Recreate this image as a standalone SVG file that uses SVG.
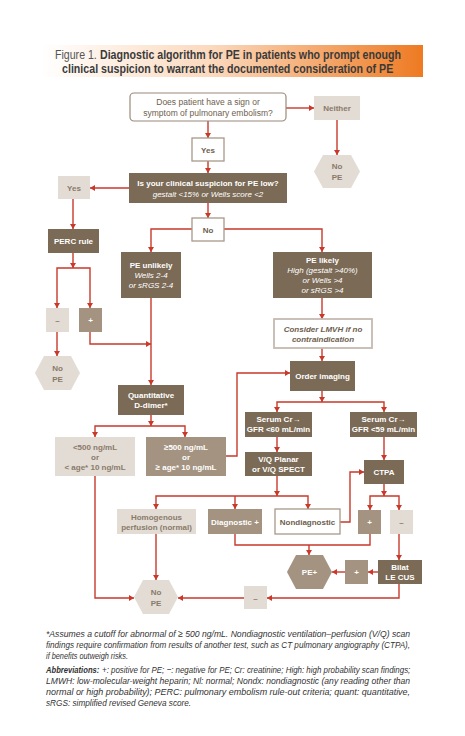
<svg xmlns="http://www.w3.org/2000/svg" width="465" height="736" viewBox="0 0 465 736">
<defs>
<linearGradient id="banner" x1="0" y1="0" x2="1" y2="0">
<stop offset="0" stop-color="#ffffff"/>
<stop offset="0.45" stop-color="#fbd9bd"/>
<stop offset="1" stop-color="#ee7a22"/>
</linearGradient>
<marker id="ah" markerUnits="userSpaceOnUse" markerWidth="6" markerHeight="6" refX="5" refY="3" orient="auto">
<path d="M0,0 L5,3 L0,6 Z" fill="#c8392a"/>
</marker>
<style>
.dark{fill:#7b6a55}
.med{fill:#a39380}
.light{fill:#e2dcd4}
.wbox{fill:#ffffff;stroke:#a89888;stroke-width:1.3}
.t{font-family:"Liberation Sans",Arial,sans-serif;font-size:8px;font-weight:bold;text-anchor:middle}
.tw{fill:#ffffff}
.tl{fill:#8a7a6a}
.tb{fill:#6e5e4e}
.it{font-style:italic;font-weight:normal}
.c path{fill:none;stroke:#c8392a;stroke-width:1.4}
.fn{font-family:"Liberation Sans",Arial,sans-serif;font-size:9.8px;font-style:italic;fill:#333333}
.ti{font-family:"Liberation Sans",Arial,sans-serif;font-size:13px;fill:#3a3a3a}
</style>
</defs>
<rect width="465" height="736" fill="#ffffff"/>
<g id="title">
<rect x="40" y="45" width="383" height="32" fill="url(#banner)"/>
<text class="ti" transform="translate(55,58.5) scale(0.82,1)" x="0" y="0" textLength="51" lengthAdjust="spacingAndGlyphs" style="fill:#555555">Figure 1.</text>
<text class="ti" transform="translate(100,58.5) scale(0.82,1)" x="0" y="0" textLength="367" lengthAdjust="spacingAndGlyphs" font-weight="bold">Diagnostic algorithm for PE in patients who prompt enough</text>
<text class="ti" transform="translate(62,73) scale(0.82,1)" x="0" y="0" textLength="404" lengthAdjust="spacingAndGlyphs" font-weight="bold">clinical suspicion to warrant the documented consideration of PE</text>
</g>
<g class="c" id="connectors">
<path d="M286,108 H314" marker-end="url(#ah)"/>
<path d="M337,120 V155" marker-end="url(#ah)"/>
<path d="M208,121 V138" marker-end="url(#ah)"/>
<path d="M208,161 V173" marker-end="url(#ah)"/>
<path d="M129,188 H90" marker-end="url(#ah)"/>
<path d="M73,199 V229" marker-end="url(#ah)"/>
<path d="M208,203 V218" marker-end="url(#ah)"/>
<path d="M192,229 H151 V252" marker-end="url(#ah)"/>
<path d="M224,229 H322 V252" marker-end="url(#ah)"/>
<path d="M73,253 V268" marker-end="url(#ah)"/>
<path d="M73,268 H57 V308" marker-end="url(#ah)"/>
<path d="M73,268 H90 V308" marker-end="url(#ah)"/>
<path d="M57,332 V356" marker-end="url(#ah)"/>
<path d="M90,332 V344 H151" marker-end="url(#ah)"/>
<path d="M151,298 V385" marker-end="url(#ah)"/>
<path d="M322,298 V319" marker-end="url(#ah)"/>
<path d="M322,348 V361" marker-end="url(#ah)"/>
<path d="M226,456 H237 V373 H290" marker-end="url(#ah)"/>
<path d="M151,415 V426" marker-end="url(#ah)"/>
<path d="M151,426 H95 V437" marker-end="url(#ah)"/>
<path d="M151,426 H185 V437" marker-end="url(#ah)"/>
<path d="M322,391 V402" marker-end="url(#ah)"/>
<path d="M322,402 H277 V412" marker-end="url(#ah)"/>
<path d="M322,402 H384 V412" marker-end="url(#ah)"/>
<path d="M277,437 V452" marker-end="url(#ah)"/>
<path d="M384,437 V460" marker-end="url(#ah)"/>
<path d="M340,522 H350 V472 H364" marker-end="url(#ah)"/>
<path d="M277,476 V496" marker-end="url(#ah)"/>
<path d="M277,496 H156 V509" marker-end="url(#ah)"/>
<path d="M277,496 H308 V509" marker-end="url(#ah)"/>
<path d="M235,496 V509" marker-end="url(#ah)"/>
<path d="M384,484 V496" marker-end="url(#ah)"/>
<path d="M384,496 H370 V510" marker-end="url(#ah)"/>
<path d="M384,496 H399 V510" marker-end="url(#ah)"/>
<path d="M235,534 V545 H370 V534"/>
<path d="M309,545 V555" marker-end="url(#ah)"/>
<path d="M399,534 V560" marker-end="url(#ah)"/>
<path d="M378,572 H368" marker-end="url(#ah)"/>
<path d="M345,572 H332" marker-end="url(#ah)"/>
<path d="M399,584 V598 H267" marker-end="url(#ah)"/>
<path d="M244,598 H178" marker-end="url(#ah)"/>
<path d="M156,534 V580" marker-end="url(#ah)"/>
<path d="M95,476 V598 H134" marker-end="url(#ah)"/>
</g>
<g id="q1">
<rect x="130" y="93" width="156" height="28" rx="4" fill="#ffffff" stroke="#9a8a7a" stroke-width="1.2"/>
<text class="t tb" style="font-weight:normal;font-size:8.5px" x="208" y="105">Does patient have a sign or</text>
<text class="t tb" style="font-weight:normal;font-size:8.5px" x="208" y="116">symptom of pulmonary embolism?</text>
</g>
<g id="neither"><rect class="light" x="314" y="96" width="46" height="24"/><text class="t tl" x="337" y="111">Neither</text></g>
<g id="nope1"><polygon class="light" points="314,171.5 323,155 351,155 360,171.5 351,188 323,188"/><text class="t tl" x="337" y="169">No</text><text class="t tl" x="337" y="179.5">PE</text></g>
<g id="yes1"><rect class="wbox" x="192" y="138" width="32" height="23"/><text class="t tb" x="208" y="152.5">Yes</text></g>
<g id="q2"><rect class="dark" x="129" y="173" width="158" height="30"/><text class="t tw" x="208" y="186">Is your clinical suspicion for PE low?</text><text class="t tw it" x="208" y="196.5">gestalt &lt;15% or Wells score &lt;2</text></g>
<g id="yes2"><rect class="light" x="58" y="176" width="32" height="23"/><text class="t tl" x="74" y="190.5">Yes</text></g>
<g id="perc"><rect class="dark" x="48" y="229" width="51" height="24"/><text class="t tw" x="73.5" y="244">PERC rule</text></g>
<g id="no1"><rect class="wbox" x="192" y="218" width="32" height="23"/><text class="t tb" x="208" y="232.5">No</text></g>
<g id="unlikely"><rect class="dark" x="121" y="252" width="60" height="46"/><text class="t tw" x="151" y="268">PE unlikely</text><text class="t tw it" x="151" y="278">Wells 2-4</text><text class="t tw it" x="151" y="288">or sRGS 2-4</text></g>
<g id="likely"><rect class="dark" x="273" y="252" width="99" height="46"/><text class="t tw" x="322.5" y="263">PE likely</text><text class="t tw it" x="322.5" y="273">High (gestalt &gt;40%)</text><text class="t tw it" x="322.5" y="283">or Wells &gt;4</text><text class="t tw it" x="322.5" y="293">or sRGS &gt;4</text></g>
<g id="percneg"><rect class="light" x="46" y="308" width="23" height="24"/><text class="t tl" x="57.5" y="323">–</text></g>
<g id="percpos"><rect class="med" x="79" y="308" width="23" height="24"/><text class="t tw" x="90.5" y="323">+</text></g>
<g id="nope2"><polygon class="light" points="35,373 44,356 71,356 80,373 71,390 44,390"/><text class="t tl" x="57.5" y="371">No</text><text class="t tl" x="57.5" y="381.5">PE</text></g>
<g id="lmwh"><rect x="274" y="319" width="98" height="29" fill="#ffffff" stroke="#c6bab0" stroke-width="1.8"/><text class="t tb" style="font-style:italic" x="323" y="332">Consider LMVH if no</text><text class="t tb" style="font-style:italic" x="323" y="341.5">contraindication</text></g>
<g id="order"><rect class="dark" x="290" y="361" width="65" height="30"/><text class="t tw" x="322.5" y="379">Order imaging</text></g>
<g id="ddimer"><rect class="dark" x="118" y="385" width="66" height="30"/><text class="t tw" x="151" y="398">Quantitative</text><text class="t tw" x="151" y="408">D-dimer*</text></g>
<g id="dlow"><rect class="light" x="55" y="437" width="80" height="39"/><text class="t tl" x="95" y="450">&lt;500 ng/mL</text><text class="t tl" x="95" y="460">or</text><text class="t tl" x="95" y="470">&lt; age* 10 ng/mL</text></g>
<g id="dhigh"><rect class="med" x="146" y="437" width="80" height="39"/><text class="t tw" x="186" y="450">≥500 ng/mL</text><text class="t tw" x="186" y="460">or</text><text class="t tw" x="186" y="470">≥ age* 10 ng/mL</text></g>
<g id="serum1"><rect class="dark" x="245" y="412" width="67" height="25"/><text class="t tw" x="278.5" y="421.5">Serum Cr→</text><text class="t tw" x="278.5" y="431.5">GFR &lt;60 mL/min</text></g>
<g id="serum2"><rect class="dark" x="350" y="412" width="67" height="25"/><text class="t tw" x="383.5" y="421.5">Serum Cr→</text><text class="t tw" x="383.5" y="431.5">GFR &lt;59 mL/min</text></g>
<g id="vq"><rect class="dark" x="245" y="452" width="67" height="24"/><text class="t tw" x="278.5" y="462">V/Q Planar</text><text class="t tw" x="278.5" y="472">or V/Q SPECT</text></g>
<g id="ctpa"><rect class="dark" x="364" y="460" width="40" height="24"/><text class="t tw" x="384" y="475">CTPA</text></g>
<g id="homog"><rect class="light" x="117" y="509" width="79" height="25"/><text class="t tl" x="156.5" y="520">Homogenous</text><text class="t tl" x="156.5" y="530">perfusion (normal)</text></g>
<g id="diag"><rect class="med" x="208" y="509" width="54" height="25"/><text class="t tw" x="235" y="524.5">Diagnostic +</text></g>
<g id="nondiag"><rect class="wbox" x="275" y="509" width="65" height="25"/><text class="t tb" x="307.5" y="524.5">Nondiagnostic</text></g>
<g id="ctpapos"><rect class="med" x="358" y="510" width="23" height="24"/><text class="t tw" x="369.5" y="525">+</text></g>
<g id="ctpaneg"><rect class="light" x="390" y="510" width="23" height="24"/><text class="t tl" x="401.5" y="525">–</text></g>
<g id="peplus"><polygon class="med" points="287,572 296,555 323,555 332,572 323,589 296,589"/><text class="t tw" x="309.5" y="575">PE+</text></g>
<g id="cuspos"><rect class="med" x="345" y="560" width="23" height="24"/><text class="t tw" x="356.5" y="575">+</text></g>
<g id="cus"><rect class="dark" x="378" y="560" width="44" height="24"/><text class="t tw" x="400" y="570">Bilat</text><text class="t tw" x="400" y="580">LE CUS</text></g>
<g id="cusneg"><rect class="light" x="244" y="586" width="23" height="23"/><text class="t tl" x="255.5" y="600.5">–</text></g>
<g id="nope3"><polygon class="light" points="134,597 143,580 169,580 178,597 169,614 143,614"/><text class="t tl" x="156" y="595">No</text><text class="t tl" x="156" y="605.5">PE</text></g>
<g id="footnote">
<text class="fn" transform="translate(46,637) scale(0.82,1)" x="0" y="0" textLength="444" lengthAdjust="spacingAndGlyphs">*Assumes a cutoff for abnormal of ≥ 500 ng/mL. Nondiagnostic ventilation–perfusion (V/Q) scan</text>
<text class="fn" transform="translate(46,648) scale(0.82,1)" x="0" y="0" textLength="444" lengthAdjust="spacingAndGlyphs">findings require confirmation from results of another test, such as CT pulmonary angiography (CTPA),</text>
<text class="fn" transform="translate(46,658.5) scale(0.82,1)" x="0" y="0" textLength="100" lengthAdjust="spacingAndGlyphs">if benefits outweigh risks.</text>
<text class="fn" transform="translate(46,672.5) scale(0.82,1)" x="0" y="0" textLength="65" lengthAdjust="spacingAndGlyphs" font-weight="bold">Abbreviations:</text>
<text class="fn" transform="translate(102,672.5) scale(0.82,1)" x="0" y="0" textLength="376" lengthAdjust="spacingAndGlyphs">+: positive for PE; −: negative for PE; Cr: creatinine; High: high probability scan findings;</text>
<text class="fn" transform="translate(46,683.5) scale(0.82,1)" x="0" y="0" textLength="444" lengthAdjust="spacingAndGlyphs">LMWH: low-molecular-weight heparin; Nl: normal; Nondx: nondiagnostic (any reading other than</text>
<text class="fn" transform="translate(46,694.5) scale(0.82,1)" x="0" y="0" textLength="444" lengthAdjust="spacingAndGlyphs">normal or high probability); PERC: pulmonary embolism rule-out criteria; quant: quantitative,</text>
<text class="fn" transform="translate(46,705.5) scale(0.82,1)" x="0" y="0" textLength="177" lengthAdjust="spacingAndGlyphs">sRGS: simplified revised Geneva score.</text>
</g>
</svg>
